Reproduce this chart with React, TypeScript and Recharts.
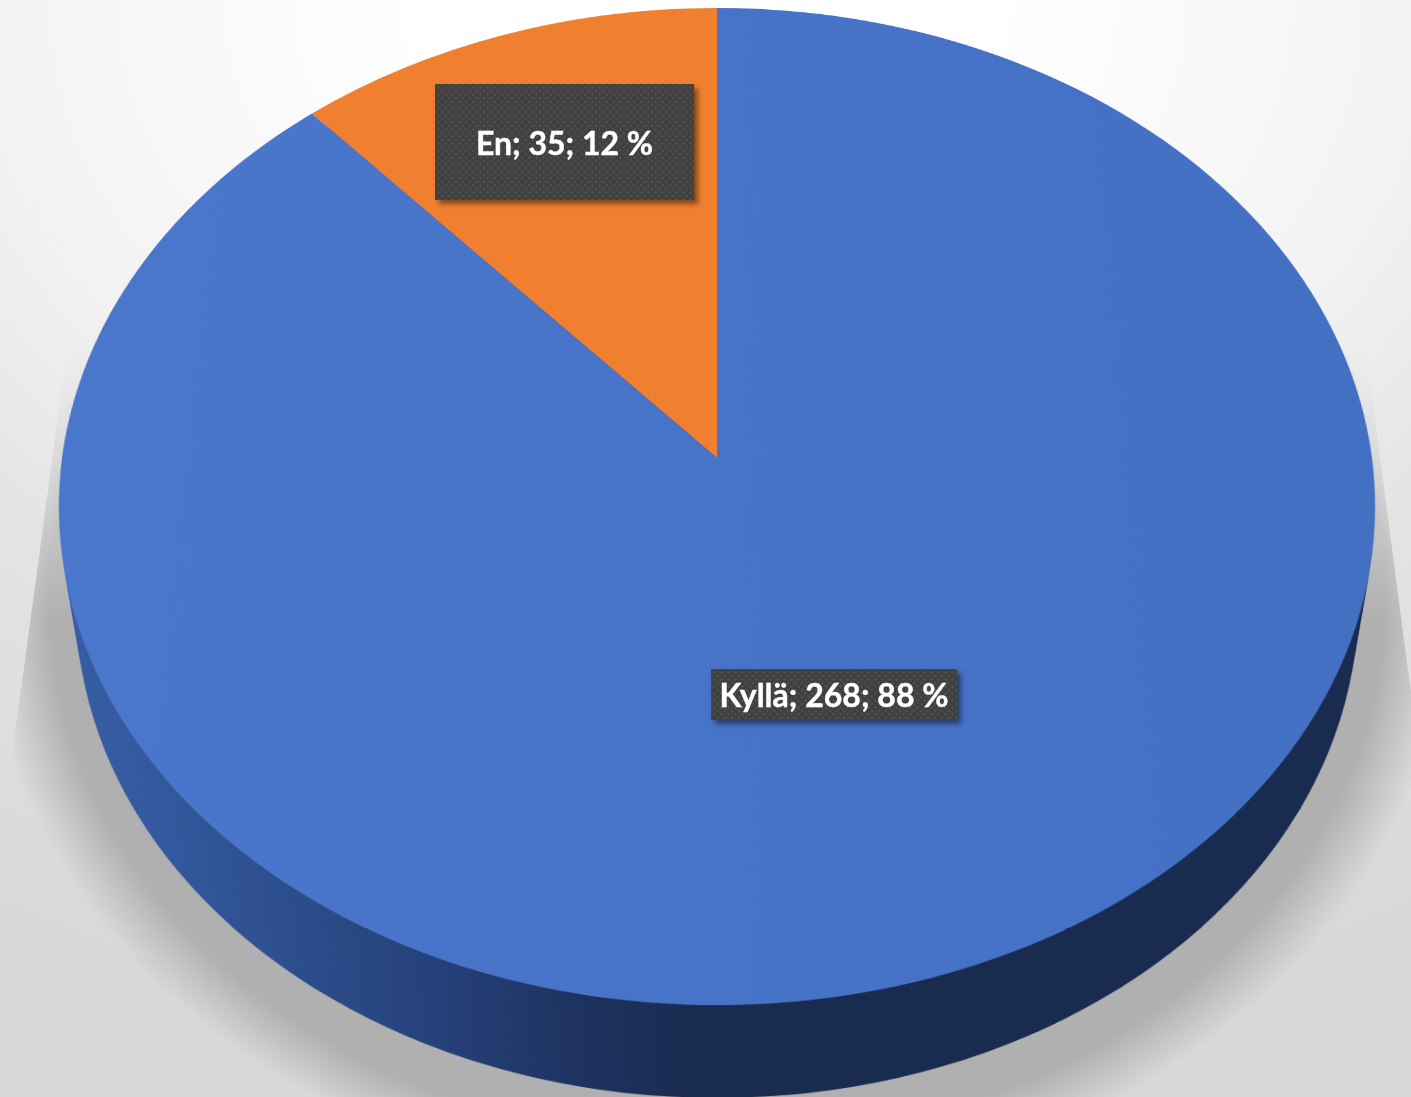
import { PieChart, Pie, Cell } from "recharts";

const categories = ["En", "Kyllä"];
const counts = [35, 268];
const sliceColors = ["#F07F30", "url(#topBlue)"];

const total = counts.reduce((a, b) => a + b, 0);
const sliceData = categories.map((name, i) => ({ name, value: counts[i] }));
const sideData = [{ name: "side", value: total }];

// placement of the two label boxes
const labelBoxes = [
  { left: 435, top: 84, width: 259, height: 116 },
  { left: 711, top: 669, width: 246, height: 51 },
];

const CHART_SIZE = 1400;
const RADIUS = 655;
const TILT = "perspective(4420px) rotateX(41.06deg)";
// a handful of copies is enough for the rim, the steps between them stay under a pixel
const depthSteps = [153, 122, 92, 61, 31];

function Disc({ depth, children }: { depth: number; children: React.ReactNode }) {
  return (
    <div
      style={{
        position: "absolute",
        left: 717 - CHART_SIZE / 2,
        top: 458 - CHART_SIZE / 2,
        width: CHART_SIZE,
        height: CHART_SIZE,
        transformOrigin: "50% 50%",
        transform: `${TILT} translateZ(${-depth}px)`,
      }}
    >
      <PieChart width={CHART_SIZE} height={CHART_SIZE} margin={{ top: 0, right: 0, bottom: 0, left: 0 }}>
        <defs>
          <linearGradient id="sideShade" x1="0" y1="0" x2="1" y2="0">
            <stop offset="0%" stopColor="#375da3" />
            <stop offset="10%" stopColor="#33589d" />
            <stop offset="20%" stopColor="#2c4d8b" />
            <stop offset="30%" stopColor="#25417a" />
            <stop offset="40%" stopColor="#1e3360" />
            <stop offset="48%" stopColor="#1a2b50" />
            <stop offset="100%" stopColor="#1a2b50" />
          </linearGradient>
          <linearGradient id="topBlue" x1="0" y1="0" x2="1" y2="0">
            <stop offset="0%" stopColor="#4a77cc" />
            <stop offset="100%" stopColor="#4370c3" />
          </linearGradient>
        </defs>
        {children}
      </PieChart>
    </div>
  );
}

export default function App() {
  return (
    <div
      style={{
        position: "absolute",
        left: 0,
        top: 0,
        width: 1411,
        height: 1097,
        overflow: "hidden",
        background:
          "radial-gradient(ellipse 1400px 1050px at 50% 0%, #ffffff 0%, #ffffff 20%, #f3f3f3 50%, #e4e4e4 69%, #d8d8d8 100%)",
        fontFamily: "Lato, sans-serif",
      }}
    >
      {/* drop shadow under the pie, washed out towards the top */}
      <div
        style={{
          position: "absolute",
          inset: 0,
          clipPath: "polygon(68px 345px, 10px 770px, 0 1097px, 1411px 1097px, 1411px 693px, 1365px 345px)",
        }}
      >
        <div
          style={{
            position: "absolute",
            left: 717 - 733,
            top: 600 - 596,
            width: 733 * 2,
            height: 596 * 2,
            background: "radial-gradient(closest-side, #b0b0b0 91%, rgba(176,176,176,0) 100%)",
          }}
        />
        <div
          style={{
            position: "absolute",
            inset: 0,
            background: "linear-gradient(to bottom, #eeeeee 340px, rgba(238,238,238,0) 620px)",
          }}
        />
      </div>

      {depthSteps.map((d) => (
        <Disc key={d} depth={d}>
          <Pie
            data={sideData}
            dataKey="value"
            cx={CHART_SIZE / 2}
            cy={CHART_SIZE / 2}
            outerRadius={RADIUS}
            startAngle={90}
            endAngle={450}
            stroke="none"
            fill="url(#sideShade)"
            isAnimationActive={false}
          />
        </Disc>
      ))}

      <Disc depth={0}>
        <Pie
          data={sliceData}
          dataKey="value"
          nameKey="name"
          cx={CHART_SIZE / 2}
          cy={CHART_SIZE / 2}
          outerRadius={RADIUS}
          startAngle={90}
          endAngle={450}
          stroke="none"
          isAnimationActive={false}
        >
          {sliceData.map((d, i) => (
            <Cell key={d.name} fill={sliceColors[i]} />
          ))}
        </Pie>
      </Disc>

      {sliceData.map((d, i) => (
        <div
          key={d.name}
          style={{
            position: "absolute",
            ...labelBoxes[i],
            display: "flex",
            alignItems: "center",
            justifyContent: "center",
            color: "#ffffff",
            fontWeight: 700,
            fontSize: 32,
            WebkitTextStroke: "0.4px #ffffff",
            whiteSpace: "nowrap",
            backgroundColor: "#404040",
            backgroundImage:
              "radial-gradient(circle, #505050 1px, transparent 1.4px), radial-gradient(circle, #505050 1px, transparent 1.4px)",
            backgroundSize: "7px 7px",
            backgroundPosition: "0 0, 3.5px 3.5px",
            boxShadow: "4px 4px 5px rgba(0,0,0,0.45)",
          }}
        >
          {`${d.name}; ${d.value}; ${Math.round((d.value / total) * 100)} %`}
        </div>
      ))}
    </div>
  );
}
